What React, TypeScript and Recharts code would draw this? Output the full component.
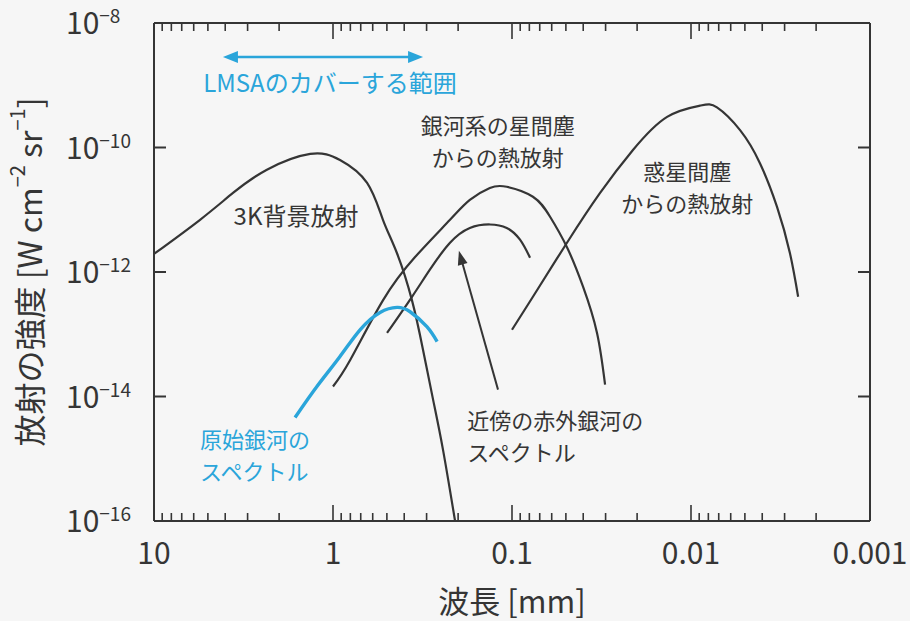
import React from 'react';
import { LineChart, Line, XAxis, YAxis, ReferenceLine, ReferenceDot } from 'recharts';

const INK = '#353535';
const BLUE = '#2aa5da';
const FONT = "'Noto Sans CJK JP', 'Noto Sans', sans-serif";

// 軸の目盛 (波長 mm / 強度 W cm^-2 sr^-1)
const xTicks = [
  10, 9, 8, 7, 6, 5, 4, 3, 2,
  1, 0.9, 0.8, 0.7, 0.6, 0.5, 0.4, 0.3, 0.2,
  0.1, 0.09, 0.08, 0.07, 0.06, 0.05, 0.04, 0.03, 0.02,
  0.01, 0.009, 0.008, 0.007, 0.006, 0.005, 0.004, 0.003, 0.002,
  0.001,
];
const xMajor = [10, 1, 0.1, 0.01, 0.001];
const yTicks = [1e-16, 1e-14, 1e-12, 1e-10, 1e-8];

// 3K背景放射
const cmbWavelength = [10, 5.53, 3.62, 2.34, 1.34, 0.914, 0.645, 0.526, 0.439, 0.362, 0.314, 0.276, 0.243, 0.208];
const cmbIntensity = [1.95e-12, 6.9e-12, 1.86e-11, 4.4e-11, 7.9e-11, 6.3e-11, 2.7e-11, 6.9e-12, 2.0e-12, 3.5e-13, 5.6e-14, 8.9e-15, 1.4e-15, 1.0e-16];

// 銀河系の星間塵からの熱放射
const dustWavelength = [1.0, 0.8, 0.526, 0.348, 0.222, 0.172, 0.133, 0.107, 0.0764, 0.0614, 0.0493, 0.0401, 0.0335, 0.0302];
const dustIntensity = [1.45e-14, 3.9e-14, 3.5e-13, 1.74e-12, 6.9e-12, 1.44e-11, 2.24e-11, 2.34e-11, 1.62e-11, 7.8e-12, 2.5e-12, 5.8e-13, 1.05e-13, 1.55e-14];

// 近傍の赤外銀河のスペクトル
const irGalaxyWavelength = [0.499, 0.362, 0.287, 0.222, 0.172, 0.133, 0.107, 0.0902, 0.0793];
const irGalaxyIntensity = [1.05e-13, 4.0e-13, 1.1e-12, 2.95e-12, 5.1e-12, 5.8e-12, 5.1e-12, 3.3e-12, 1.7e-12];

// 惑星間塵からの熱放射
const zodiWavelength = [0.1, 0.0764, 0.0493, 0.0322, 0.0211, 0.0136, 0.00891, 0.00716, 0.00532, 0.00412, 0.00331, 0.0028, 0.00252];
const zodiIntensity = [1.18e-13, 4.0e-13, 2.95e-12, 1.86e-11, 9.1e-11, 3.1e-10, 4.7e-10, 4.4e-10, 1.9e-10, 5.6e-11, 1.12e-11, 2.0e-12, 4.0e-13];

// 原始銀河のスペクトル
const protoWavelength = [1.63, 1.23, 0.914, 0.706, 0.546, 0.439, 0.371, 0.299, 0.262];
const protoIntensity = [4.6e-15, 1.45e-14, 4.4e-14, 1.18e-13, 2.24e-13, 2.7e-13, 2.3e-13, 1.32e-13, 7.6e-14];

// 矢印: LMSAの範囲 / 赤外銀河の移動
const lmsaRange = [4.12, 0.314];
const lmsaLevel = 2.84e-9;
const irArrowWavelength = [0.1197, 0.198];
const irArrowIntensity = [1.29e-14, 2.19e-12];

// 注記
const notes = [
  { w: 1.04, v: 1.05e-9, lines: ['LMSAのカバーする範囲'], color: BLUE, anchor: 'middle' },
  { w: 0.12, v: 2.14e-10, lines: ['銀河系の星間塵', 'からの熱放射'], color: INK, anchor: 'middle' },
  { w: 1.61, v: 7.7e-12, lines: ['3K背景放射'], color: INK, anchor: 'middle' },
  { w: 0.0105, v: 3.9e-11, lines: ['惑星間塵', 'からの熱放射'], color: INK, anchor: 'middle' },
  { w: 0.178, v: 3.9e-15, lines: ['近傍の赤外銀河の', 'スペクトル'], color: INK, anchor: 'start' },
  { w: 5.53, v: 1.9e-15, lines: ['原始銀河の', 'スペクトル'], color: BLUE, anchor: 'start' },
];

const toPoints = (ws: number[], vs: number[]) => ws.map((w, i) => ({ w, v: vs[i] }));

const curves = [
  { key: 'cmb', data: toPoints(cmbWavelength, cmbIntensity), color: INK, width: 2.2 },
  { key: 'dust', data: toPoints(dustWavelength, dustIntensity), color: INK, width: 2.2 },
  { key: 'irGalaxy', data: toPoints(irGalaxyWavelength, irGalaxyIntensity), color: INK, width: 2.2 },
  { key: 'zodi', data: toPoints(zodiWavelength, zodiIntensity), color: INK, width: 2.2 },
  { key: 'proto', data: toPoints(protoWavelength, protoIntensity), color: BLUE, width: 3.4 },
];

const isMajor = (v: number) => xMajor.includes(v);
const exponent = (v: number) => Math.round(Math.log10(v));

function BottomTick({ x, y, payload }: any) {
  const major = isMajor(payload.value);
  return (
    <g>
      <line x1={x} x2={x} y1={y} y2={y - (major ? 16 : 8)} stroke={INK} strokeWidth={1.6} />
      {major && (
        <text x={x} y={y + 43} textAnchor="middle" fontSize={30} fill={INK} fontFamily={FONT}>
          {String(payload.value)}
        </text>
      )}
    </g>
  );
}

function TopTick({ x, y, payload }: any) {
  const major = isMajor(payload.value);
  return <line x1={x} x2={x} y1={y} y2={y + (major ? 16 : 8)} stroke={INK} strokeWidth={1.6} />;
}

function LeftTick({ x, y, payload }: any) {
  const e = exponent(payload.value);
  const edge = e === -8 || e === -16;
  return (
    <g>
      {!edge && <line x1={x} x2={x + 12} y1={y} y2={y} stroke={INK} strokeWidth={2} />}
      <text x={x - 88} y={y + 11} fontSize={30} fill={INK} fontFamily={FONT}>
        10
        <tspan dy={-11} fontSize={19}>{'\u2212' + Math.abs(e)}</tspan>
      </text>
    </g>
  );
}

function RightTick({ x, y, payload }: any) {
  const e = exponent(payload.value);
  if (e === -8 || e === -16) return <g />;
  return <line x1={x} x2={x - 12} y1={y} y2={y} stroke={INK} strokeWidth={2} />;
}

function YTitle({ viewBox }: any) {
  const cx = viewBox.x + 28;
  const cy = viewBox.y + viewBox.height / 2;
  return (
    <text
      transform={`translate(${cx}, ${cy}) rotate(-90)`}
      textAnchor="middle"
      dominantBaseline="central"
      fontSize={32}
      fill={INK}
      fontFamily={FONT}
    >
      放射の強度 [W cm
      <tspan dy={-12} fontSize={20}>{'\u22122'}</tspan>
      <tspan dy={12}> sr</tspan>
      <tspan dy={-12} fontSize={20}>{'\u22121'}</tspan>
      <tspan dy={12}>]</tspan>
    </text>
  );
}

function XTitle({ viewBox }: any) {
  return (
    <text
      x={viewBox.x + viewBox.width / 2}
      y={viewBox.y + 92}
      textAnchor="middle"
      fontSize={31}
      fill={INK}
      fontFamily={FONT}
    >
      波長 [mm]
    </text>
  );
}

// 矢じり付きの線分
function arrowShape(both: boolean, color: string, width: number, head: number, half: number) {
  return (props: any) => {
    const { x1, y1, x2, y2 } = props;
    const a = Math.atan2(y2 - y1, x2 - x1);
    const c = Math.cos(a);
    const s = Math.sin(a);
    const headPts = (tx: number, ty: number, dir: number) => {
      const bx = tx - dir * head * c;
      const by = ty - dir * head * s;
      return `${tx},${ty} ${bx - half * s},${by + half * c} ${bx + half * s},${by - half * c}`;
    };
    const sx = both ? x1 + head * 0.8 * c : x1;
    const sy = both ? y1 + head * 0.8 * s : y1;
    return (
      <g>
        <line x1={sx} y1={sy} x2={x2 - head * 0.8 * c} y2={y2 - head * 0.8 * s} stroke={color} strokeWidth={width} />
        <polygon points={headPts(x2, y2, 1)} fill={color} />
        {both && <polygon points={headPts(x1, y1, -1)} fill={color} />}
      </g>
    );
  };
}

// 注記 (複数行は行ごとに)
function noteShape(lines: string[], color: string, anchor: string) {
  return (props: any) => {
    const { cx, cy } = props;
    const single = lines.length === 1;
    return (
      <g>
        {lines.map((t, i) => (
          <text
            key={i}
            x={cx}
            y={cy + 8 - (single ? 0 : 1) + i * 32}
            textAnchor={anchor as any}
            fontSize={single ? 24 : 22}
            fill={color}
            fontFamily={FONT}
          >
            {t}
          </text>
        ))}
      </g>
    );
  };
}

export default function App() {
  return (
    <div style={{ position: 'absolute', left: 0, top: 0, width: 910, height: 621, background: '#f6f6f6' }}>
      <LineChart width={910} height={621} margin={{ top: 0, right: 0, bottom: 2, left: 0 }}>
        <XAxis
          xAxisId={0}
          dataKey="w"
          type="number"
          scale="log"
          domain={[0.001, 10]}
          reversed
          allowDataOverflow
          ticks={xTicks}
          interval={0}
          height={98}
          tickSize={0}
          tickMargin={0}
          tickLine={false}
          axisLine={{ stroke: INK, strokeWidth: 2 }}
          tick={<BottomTick />}
          label={{ content: (p: any) => <XTitle viewBox={p.viewBox} /> }}
        />
        <XAxis
          xAxisId="top"
          orientation="top"
          dataKey="w"
          type="number"
          scale="log"
          domain={[0.001, 10]}
          reversed
          allowDataOverflow
          ticks={xTicks}
          interval={0}
          height={23}
          tickSize={0}
          tickMargin={0}
          tickLine={false}
          axisLine={{ stroke: INK, strokeWidth: 2 }}
          tick={<TopTick />}
        />
        <YAxis
          yAxisId={0}
          dataKey="v"
          type="number"
          scale="log"
          domain={[1e-16, 1e-8]}
          allowDataOverflow
          ticks={yTicks}
          interval={0}
          width={154}
          tickSize={0}
          tickMargin={0}
          tickLine={false}
          axisLine={{ stroke: INK, strokeWidth: 2 }}
          tick={<LeftTick />}
          label={{ content: (p: any) => <YTitle viewBox={p.viewBox} /> }}
        />
        <YAxis
          yAxisId="right"
          orientation="right"
          dataKey="v"
          type="number"
          scale="log"
          domain={[1e-16, 1e-8]}
          allowDataOverflow
          ticks={yTicks}
          interval={0}
          width={40}
          tickSize={0}
          tickMargin={0}
          tickLine={false}
          axisLine={{ stroke: INK, strokeWidth: 2 }}
          tick={<RightTick />}
        />

        {curves.map((c) => (
          <Line
            key={c.key}
            data={c.data}
            dataKey="v"
            type="natural"
            stroke={c.color}
            strokeWidth={c.width}
            dot={false}
            activeDot={false}
            isAnimationActive={false}
          />
        ))}

        <ReferenceLine
          segment={[
            { x: lmsaRange[0], y: lmsaLevel },
            { x: lmsaRange[1], y: lmsaLevel },
          ]}
          ifOverflow="visible"
          shape={arrowShape(true, BLUE, 2.6, 15, 6)}
        />
        <ReferenceLine
          segment={[
            { x: irArrowWavelength[0], y: irArrowIntensity[0] },
            { x: irArrowWavelength[1], y: irArrowIntensity[1] },
          ]}
          ifOverflow="visible"
          shape={arrowShape(false, INK, 2, 14, 5)}
        />

        {notes.map((n, i) => (
          <ReferenceDot
            key={i}
            x={n.w}
            y={n.v}
            ifOverflow="visible"
            shape={noteShape(n.lines, n.color, n.anchor)}
          />
        ))}
      </LineChart>
    </div>
  );
}
